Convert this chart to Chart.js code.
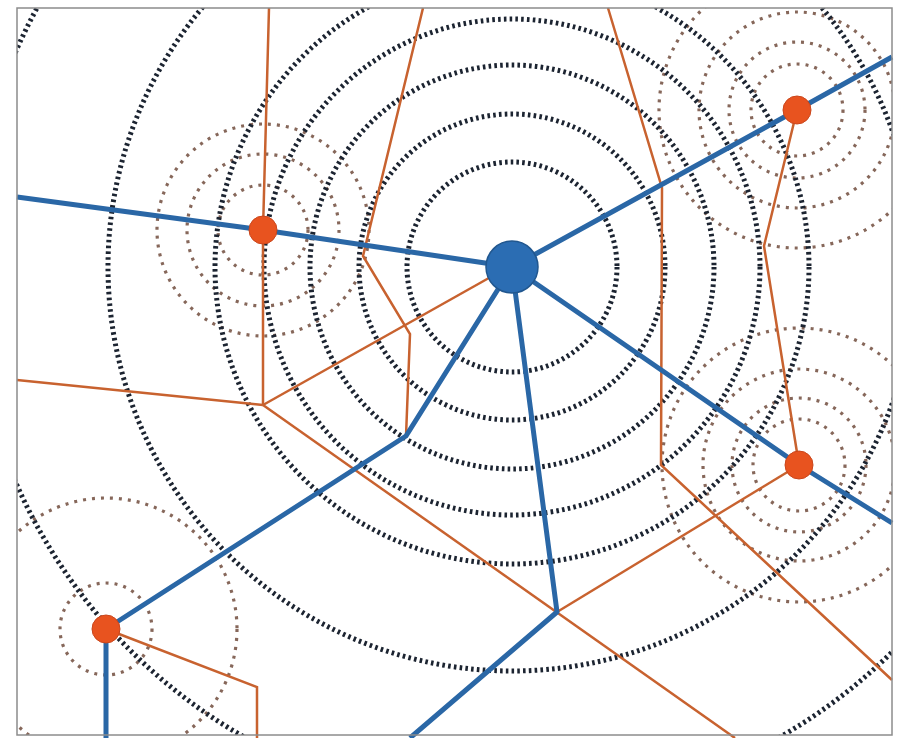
<!DOCTYPE html>
<html>
<head>
<meta charset="utf-8">
<script src="https://cdn.jsdelivr.net/npm/chart.js@4.4.1/dist/chart.umd.min.js"></script>
<style>
  html, body { margin: 0; background: #fff; }
  #wrap { width: 910px; height: 738px; }
</style>
</head>
<body>
<div id="wrap"><canvas id="map"></canvas></div>
<script>
// hub (big blue node) and towns (orange nodes), in map units
const hubX = [512];
const hubY = [267];
const townX = [263, 797, 799, 106];
const townY = [230, 110, 465, 629];

// ring radii
const hubRings = [105, 153, 202, 248, 297, 404, 541];
const townRings = [[45, 76, 106], [46, 68, 98, 138], [46, 67, 96, 137], [46, 131]];

// blue routes (from the hub)
const blueRoutes = [
  [[17, 197], [263, 230], [512, 267]],
  [[512, 267], [797, 110], [892, 57]],
  [[512, 267], [799, 465], [892, 523]],
  [[512, 267], [406, 436], [106, 629], [106, 738]],
  [[512, 267], [557, 612], [410, 738]]
];

// orange boundaries
const orangeRoutes = [
  [[269, 8], [263, 230], [263, 405]],
  [[17, 380], [263, 405]],
  [[263, 405], [512, 265]],
  [[263, 405], [735, 738]],
  [[423, 8], [363, 256], [410, 334], [406, 436]],
  [[608, 8], [662, 188], [661, 465], [892, 680]],
  [[797, 110], [764, 246], [799, 465]],
  [[799, 465], [557, 612]],
  [[106, 629], [257, 687], [257, 738]]
];

// map frame
const frameX = [17, 892];
const frameY = [8, 735];

const toPts = route => route.map(p => ({ x: p[0], y: p[1] }));

const datasets = [];

// nodes on top
datasets.push({
  label: 'hub',
  data: hubX.map((v, i) => ({ x: v, y: hubY[i] })),
  pointRadius: 26,
  pointBackgroundColor: '#2b6db3',
  pointBorderColor: '#21578f',
  pointBorderWidth: 1.5,
  showLine: false,
  order: 0
});
datasets.push({
  label: 'towns',
  data: townX.map((v, i) => ({ x: v, y: townY[i] })),
  pointRadius: 14,
  pointBackgroundColor: '#e8531f',
  pointBorderColor: '#c9461c',
  pointBorderWidth: 1,
  showLine: false,
  order: 0
});

blueRoutes.forEach((r, i) => {
  datasets.push({
    label: 'blue' + i,
    data: toPts(r),
    showLine: true,
    borderColor: '#2a67a6',
    borderWidth: 5,
    pointRadius: 0,
    tension: 0,
    fill: false,
    borderJoinStyle: 'round',
    order: 1
  });
});

orangeRoutes.forEach((r, i) => {
  datasets.push({
    label: 'orange' + i,
    data: toPts(r),
    showLine: true,
    borderColor: '#c8622f',
    borderWidth: 2.5,
    pointRadius: 0,
    tension: 0,
    fill: false,
    order: 2
  });
});

// dotted rings, drawn under the routes
const ringPlugin = {
  id: 'rings',
  beforeDatasetsDraw(chart) {
    const { ctx, scales: { x, y } } = chart;
    const px = v => x.getPixelForValue(v);
    const py = v => y.getPixelForValue(v);
    ctx.save();
    ctx.beginPath();
    ctx.rect(px(frameX[0]), py(frameY[0]), px(frameX[1]) - px(frameX[0]), py(frameY[1]) - py(frameY[0]));
    ctx.clip();

    // town rings
    ctx.strokeStyle = '#86675a';
    ctx.lineWidth = 3.2;
    ctx.setLineDash([3, 6]);
    townRings.forEach((rings, i) => {
      rings.forEach(r => {
        ctx.beginPath();
        ctx.arc(px(townX[i]), py(townY[i]), px(townX[i] + r) - px(townX[i]), 0, Math.PI * 2);
        ctx.stroke();
      });
    });

    // hub rings
    ctx.strokeStyle = '#1c2431';
    ctx.lineWidth = 5;
    ctx.setLineDash([2.6, 3.2]);
    hubRings.forEach(r => {
      ctx.beginPath();
      ctx.arc(px(hubX[0]), py(hubY[0]), px(hubX[0] + r) - px(hubX[0]), 0, Math.PI * 2);
      ctx.stroke();
    });
    ctx.restore();
  },
  afterDraw(chart) {
    const { ctx, scales: { x, y } } = chart;
    ctx.save();
    ctx.strokeStyle = '#8c8c8c';
    ctx.lineWidth = 1.5;
    ctx.strokeRect(x.getPixelForValue(frameX[0]), y.getPixelForValue(frameY[0]),
      x.getPixelForValue(frameX[1]) - x.getPixelForValue(frameX[0]),
      y.getPixelForValue(frameY[1]) - y.getPixelForValue(frameY[0]));
    ctx.restore();
  }
};

new Chart(document.getElementById('map').getContext('2d'), {
  type: 'scatter',
  data: { datasets: datasets },
  options: {
    responsive: true,
    maintainAspectRatio: false,
    animation: false,
    layout: { padding: 0, autoPadding: false },
    plugins: { legend: { display: false }, tooltip: { enabled: false } },
    scales: {
      x: { type: 'linear', min: 0, max: 910, display: false },
      y: { type: 'linear', min: 0, max: 738, reverse: true, display: false }
    }
  },
  plugins: [ringPlugin]
});
</script>
</body>
</html>
